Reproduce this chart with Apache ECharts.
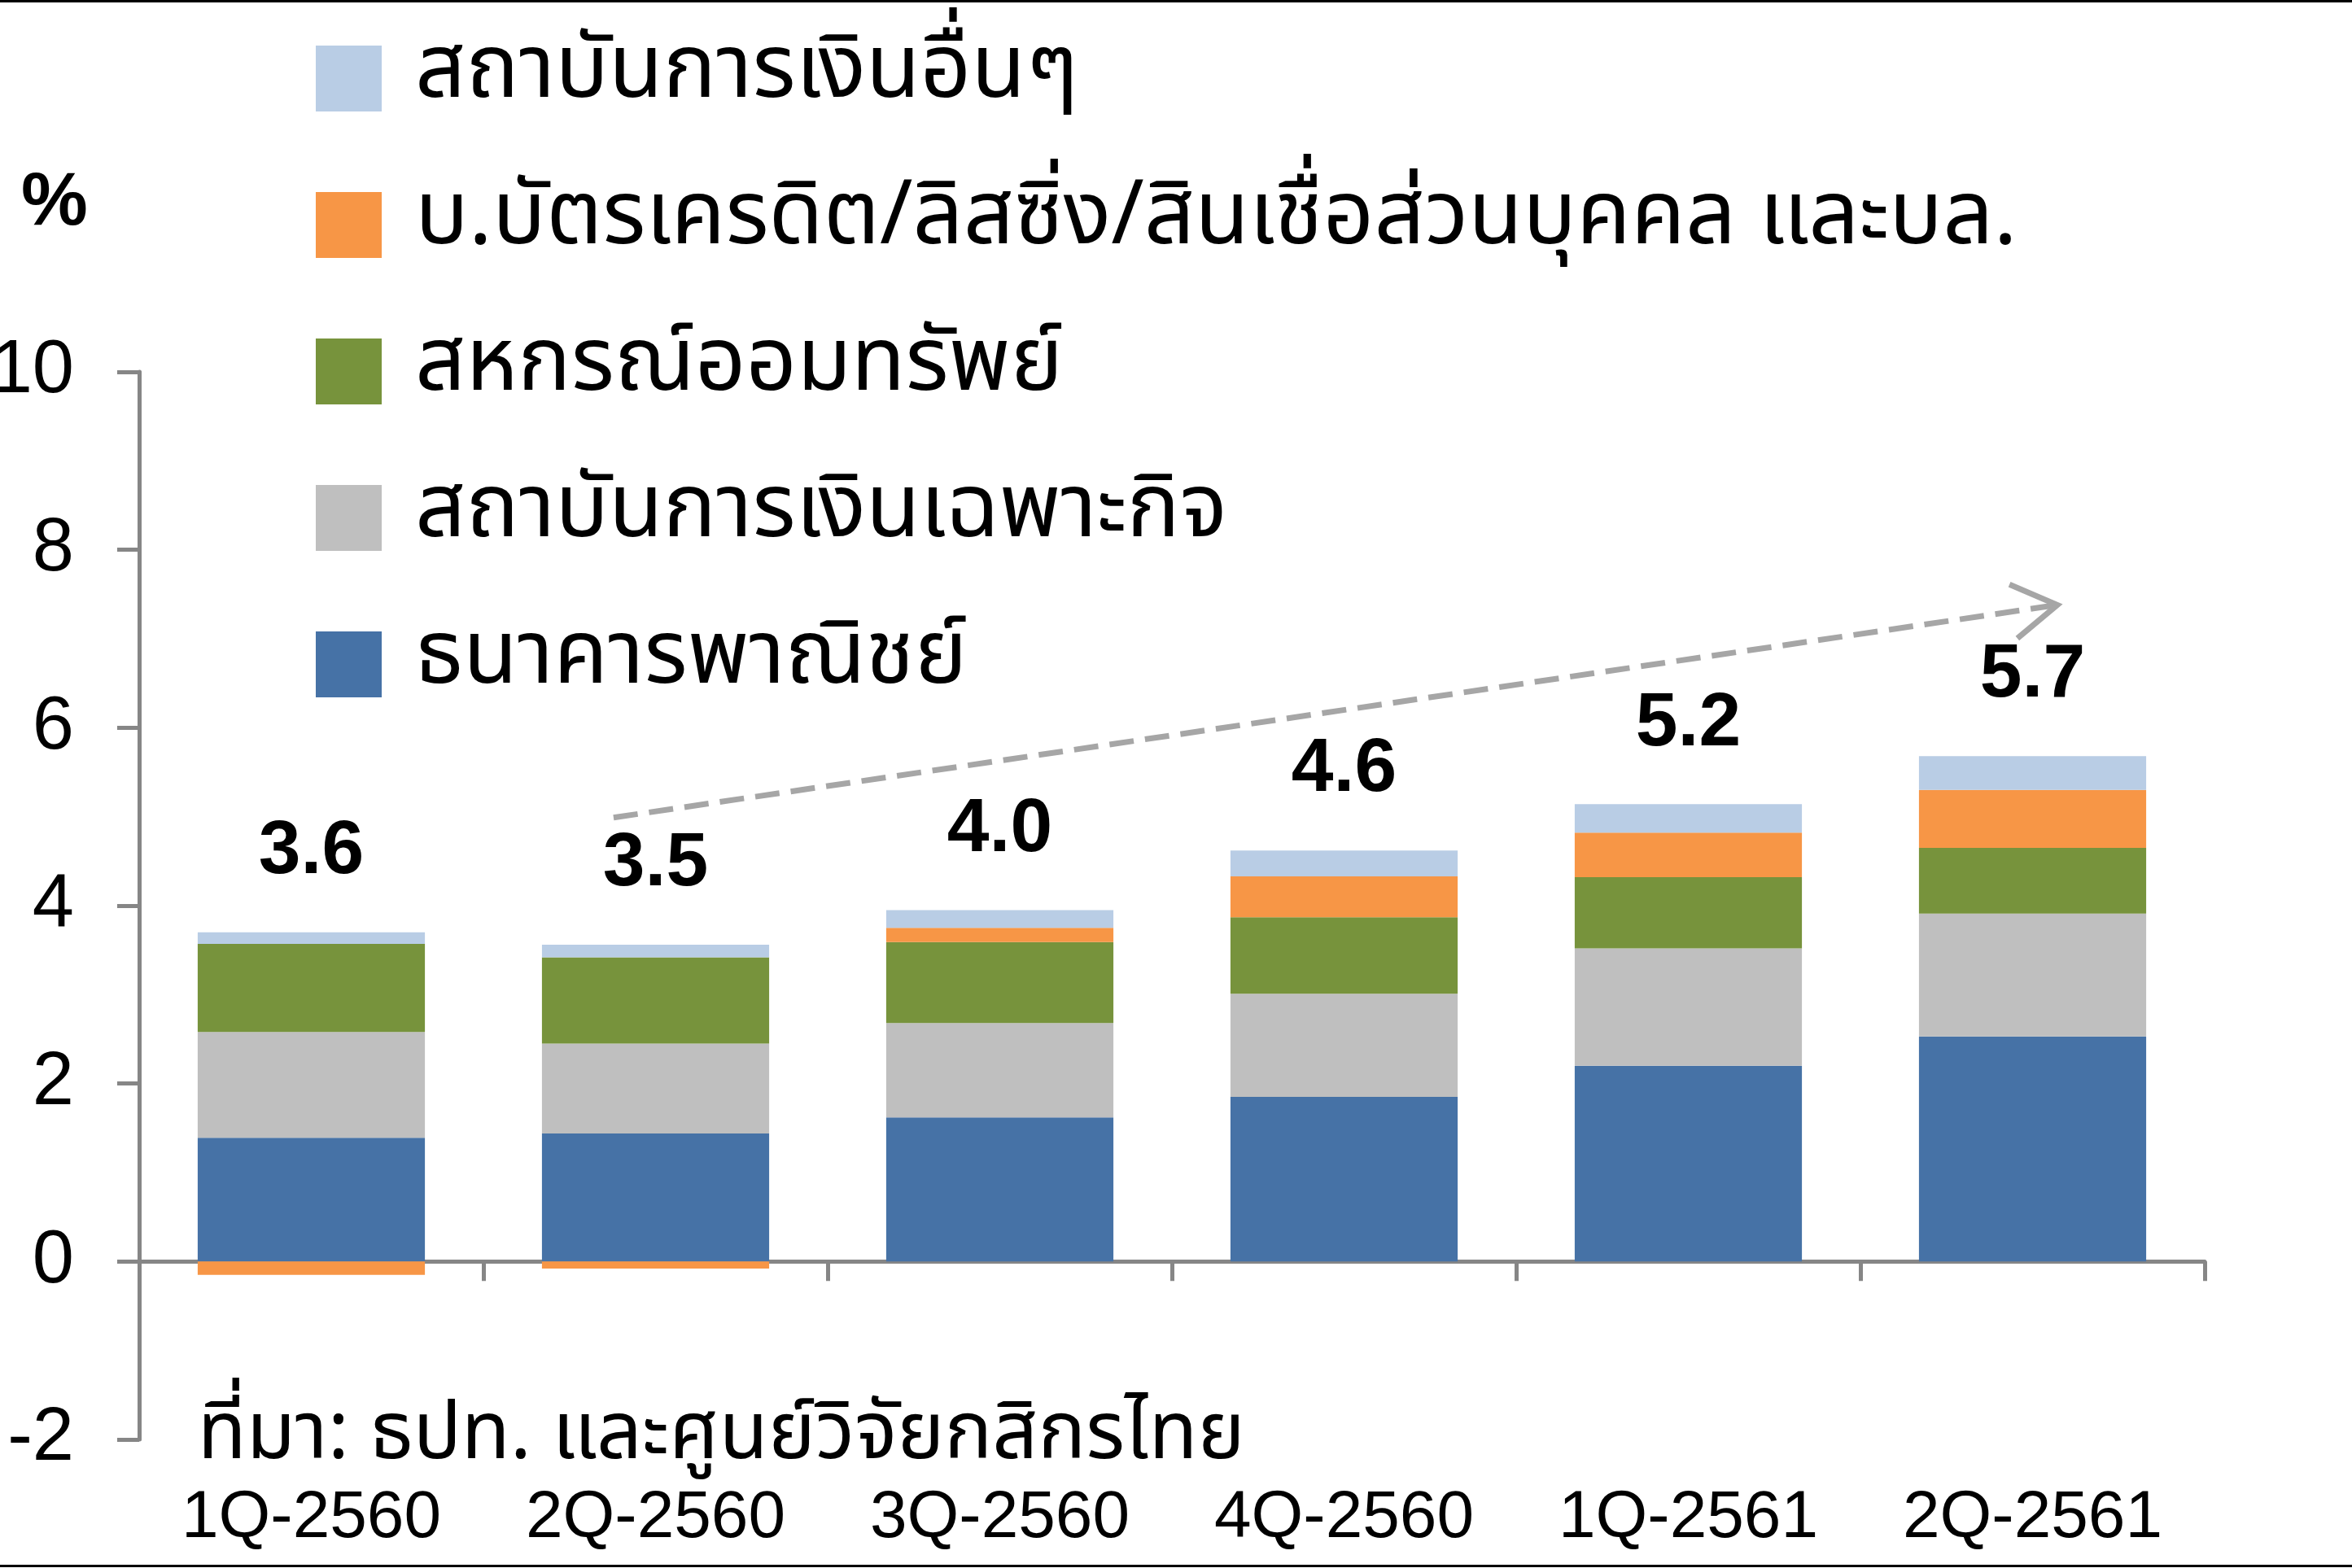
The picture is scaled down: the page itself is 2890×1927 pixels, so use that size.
<!DOCTYPE html>
<html>
<head>
<meta charset="utf-8">
<script src="https://cdn.jsdelivr.net/npm/echarts@6/dist/echarts.min.js"></script>
<style>
html,body{margin:0;padding:0;background:#fff;}
#c{width:2890px;height:1927px;}
</style>
</head>
<body>
<div id="c"></div>
<script>
const categories = ['1Q-2560','2Q-2560','3Q-2560','4Q-2560','1Q-2561','2Q-2561'];
const commercialBanks = [1.39, 1.44, 1.62, 1.85, 2.20, 2.53];
const specializedFI = [1.19, 1.01, 1.06, 1.16, 1.32, 1.38];
const cooperatives = [0.99, 0.97, 0.91, 0.86, 0.80, 0.74];
const cardLeasing = [-0.15, -0.08, 0.16, 0.46, 0.50, 0.65];
const otherFI = [0.13, 0.14, 0.20, 0.29, 0.32, 0.38];
const totals = ['3.6','3.5','4.0','4.6','5.2','5.7'];
const yTicks = {min: -2, max: 10, interval: 2};
const names = ['ธนาคารพาณิชย์','สถาบันการเงินเฉพาะกิจ','สหกรณ์ออมทรัพย์','บ.บัตรเครดิต/ลิสซิ่ง/สินเชื่อส่วนบุคคล และบล.','สถาบันการเงินอื่นๆ'];
const colors = ['#4672A6','#BFBFBF','#77933C','#F79646','#B9CDE5'];
const sourceText = 'ที่มา: ธปท. และศูนย์วิจัยกสิกรไทย';
const unitText = '%';
// trend arrow (in data units: category index fraction, value)
const arrowStart = [0.878, 4.99];
const arrowEnd = [5.072, 7.38];

const latin = "'Liberation Sans', Arial, sans-serif";
const thai = "'Noto Sans Thai', 'Noto Sans Thai Looped', 'Loma', 'Garuda', 'Noto Sans', 'DejaVu Sans', sans-serif";
const axisGray = '#868686';

const chart = echarts.init(document.getElementById('c'), null, {renderer: 'canvas'});
const seriesData = [commercialBanks, specializedFI, cooperatives, cardLeasing, otherFI];

const series = seriesData.map((d, i) => ({
  name: names[i],
  type: 'bar',
  stack: 'total',
  data: d,
  barCategoryGap: '34%',
  itemStyle: {color: colors[i]},
  label: i === 4 ? {
    show: true,
    position: 'top',
    distance: 52,
    formatter: p => totals[p.dataIndex],
    fontFamily: latin,
    fontWeight: 'bold',
    fontSize: 93,
    color: '#000'
  } : {show: false},
  emphasis: {disabled: true},
  animation: false
}));

chart.setOption({
  animation: false,
  backgroundColor: '#fff',
  grid: {left: 171, right: 181, top: 457, bottom: 158, containLabel: false, outerBoundsMode: 'none'},
  legend: {
    orient: 'vertical',
    left: 383,
    top: 37,
    itemWidth: 81,
    itemHeight: 81,
    itemGap: 71,
    icon: 'rect',
    selectedMode: false,
    data: names.slice().reverse(),
    textStyle: {
      fontFamily: thai,
      fontSize: 109,
      color: '#000',
      lineHeight: 81,
      padding: [0, 0, 0, 36]
    }
  },
  xAxis: [
    {
      type: 'category',
      data: categories,
      position: 'bottom',
      axisLine: {show: false, onZero: false},
      axisTick: {show: false},
      axisLabel: {fontFamily: latin, fontSize: 82, color: '#000', margin: 56},
      splitLine: {show: false}
    },
    {
      type: 'category',
      data: categories,
      position: 'top',
      axisLine: {show: true, onZero: true, lineStyle: {color: axisGray, width: 5}},
      axisTick: {show: true, inside: true, length: 24, lineStyle: {color: axisGray, width: 5}},
      axisLabel: {show: false},
      splitLine: {show: false}
    }
  ],
  yAxis: {
    type: 'value',
    min: yTicks.min,
    max: yTicks.max,
    interval: yTicks.interval,
    axisLine: {show: true, lineStyle: {color: axisGray, width: 5}},
    axisTick: {show: true, length: 27, lineStyle: {color: axisGray, width: 5}},
    axisLabel: {fontFamily: latin, fontSize: 92, color: '#000', margin: 80},
    splitLine: {show: false}
  },
  series: series
});

function toPx(pt) {
  const p0 = chart.convertToPixel({xAxisIndex: 0, yAxisIndex: 0}, [0, pt[1]]);
  const p1 = chart.convertToPixel({xAxisIndex: 0, yAxisIndex: 0}, [1, pt[1]]);
  return [p0[0] + pt[0] * (p1[0] - p0[0]), p0[1]];
}
const s = toPx(arrowStart);
const e = toPx(arrowEnd);
const ang = Math.atan2(e[1] - s[1], e[0] - s[0]);
const headLen = 64, headAng = 0.55;
const h1 = [e[0] - headLen * Math.cos(ang - headAng), e[1] - headLen * Math.sin(ang - headAng)];
const h2 = [e[0] - headLen * Math.cos(ang + headAng), e[1] - headLen * Math.sin(ang + headAng)];

chart.setOption({
  graphic: [
    {type: 'line', shape: {x1: s[0], y1: s[1], x2: e[0] - 6 * Math.cos(ang), y2: e[1] - 6 * Math.sin(ang)},
     style: {stroke: '#A6A6A6', lineWidth: 7, lineDash: [30, 14]}, z: 10},
    {type: 'polyline', shape: {points: [h1, e, h2]},
     style: {stroke: '#A6A6A6', lineWidth: 7, fill: null}, z: 10},
    {type: 'text', left: 26, top: 205,
     style: {text: unitText, font: "bold 92px 'Liberation Sans', Arial, sans-serif", fill: '#000'}},
    {type: 'text', x: 243, y: 1772,
     style: {text: sourceText, fontFamily: thai, fontSize: 98, fill: '#000', verticalAlign: 'middle', align: 'left'}},
    {type: 'rect', shape: {x: 0, y: 0, width: 2890, height: 3}, style: {fill: '#000'}},
    {type: 'rect', shape: {x: 0, y: 1923, width: 2890, height: 3}, style: {fill: '#000'}}
  ]
});
</script>
</body>
</html>
